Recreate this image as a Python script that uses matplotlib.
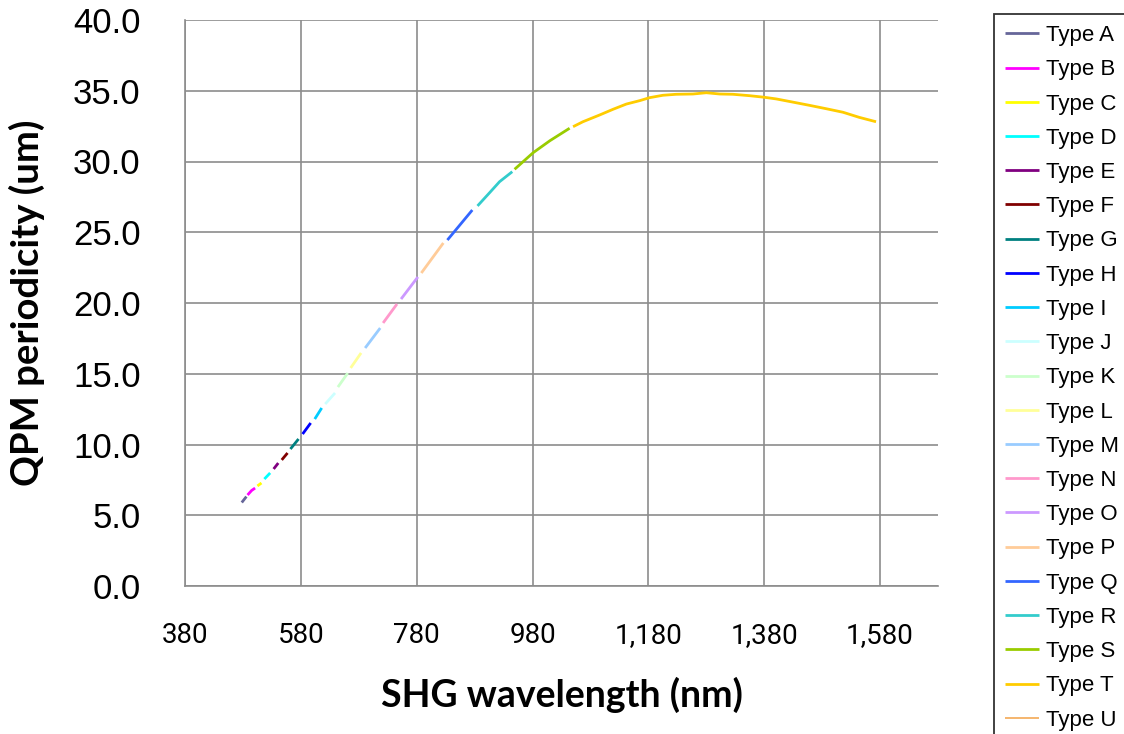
import matplotlib.pyplot as plt
from matplotlib.ticker import FuncFormatter, MultipleLocator

# Series (SHG wavelength nm, QPM period um)
labels = ["Type A", "Type B", "Type C", "Type D", "Type E", "Type F", "Type G",
          "Type H", "Type I", "Type J", "Type K", "Type L", "Type M", "Type N",
          "Type O", "Type P", "Type Q", "Type R", "Type S", "Type T", "Type U"]

wl_a, qpm_a = [478, 486], [5.90, 6.32]
wl_b, qpm_b = [488, 495, 501], [6.43, 6.75, 6.92]
wl_c, qpm_c = [505, 512], [7.07, 7.28]
wl_d, qpm_d = [517, 527], [7.56, 7.99]
wl_e, qpm_e = [533, 541], [8.27, 8.69]
wl_f, qpm_f = [547, 557], [8.91, 9.40]
wl_g, qpm_g = [562, 576], [9.68, 10.39]
wl_h, qpm_h = [583, 597], [10.74, 11.52]
wl_i, qpm_i = [604, 616], [11.80, 12.58]
wl_j, qpm_j = [622, 639], [12.86, 13.64]
wl_k, qpm_k = [644, 661], [14.06, 15.05]
wl_l, qpm_l = [666, 684], [15.41, 16.47]
wl_m, qpm_m = [691, 717], [16.82, 18.23]
wl_n, qpm_n = [722, 746], [18.59, 19.93]
wl_o, qpm_o = [753, 782], [20.28, 21.84]
wl_p, qpm_p = [788, 826], [22.12, 24.24]
wl_q, qpm_q = [833, 876], [24.45, 26.57]
wl_r, qpm_r = [885, 906, 923, 945], [26.86, 27.80, 28.57, 29.28]
wl_s, qpm_s = [949, 981, 1010, 1044], [29.45, 30.62, 31.47, 32.35]
wl_t = [1050, 1067, 1096, 1119, 1142, 1165, 1182, 1205, 1228, 1257, 1280,
        1303, 1326, 1355, 1380, 1401, 1429, 1458, 1487, 1516, 1544, 1573]
qpm_t = [32.46, 32.81, 33.29, 33.69, 34.06, 34.30, 34.51, 34.68, 34.75, 34.77, 34.86,
         34.77, 34.75, 34.65, 34.54, 34.42, 34.20, 33.97, 33.73, 33.48, 33.12, 32.81]
wl_u, qpm_u = [], []

xs = [wl_a, wl_b, wl_c, wl_d, wl_e, wl_f, wl_g, wl_h, wl_i, wl_j, wl_k,
      wl_l, wl_m, wl_n, wl_o, wl_p, wl_q, wl_r, wl_s, wl_t, wl_u]
ys = [qpm_a, qpm_b, qpm_c, qpm_d, qpm_e, qpm_f, qpm_g, qpm_h, qpm_i, qpm_j, qpm_k,
      qpm_l, qpm_m, qpm_n, qpm_o, qpm_p, qpm_q, qpm_r, qpm_s, qpm_t, qpm_u]

colors = ["#666699", "#FF00FF", "#FFFF00", "#00FFFF", "#800080", "#800000",
          "#008080", "#0000FF", "#00CCFF", "#CCFFFF", "#CCFFCC", "#FFFF99",
          "#99CCFF", "#FF99CC", "#CC99FF", "#FFCC99", "#3366FF", "#33CCCC",
          "#99CC00", "#FFCC00", "#F5B062"]

fig = plt.figure(figsize=(11.24, 7.34), dpi=100)
ax = fig.add_axes([185 / 1124, 1 - 586 / 734, (938 - 185) / 1124, (586 - 20) / 734])

for x, y, c, lab in zip(xs, ys, colors, labels):
    lw = 1.3 if lab == "Type U" else 2.0
    ax.plot(x, y, color=c, lw=lw, label=lab, solid_capstyle="butt")

ax.set_xlim(380, 1680)
ax.set_ylim(0, 40)
ax.xaxis.set_major_locator(MultipleLocator(200, offset=380))
ax.yaxis.set_major_locator(MultipleLocator(5))
ax.xaxis.set_major_formatter(FuncFormatter(lambda v, p: f"{v:,.0f}" if v <= 1580 else ""))
ax.yaxis.set_major_formatter(FuncFormatter(lambda v, p: f"{v:.1f}"))

ax.grid(True, color="#8c8c8c", lw=1.2)
ax.set_axisbelow(True)
for s in ["top", "right"]:
    ax.spines[s].set_visible(False)
for s in ["left", "bottom"]:
    ax.spines[s].set_color("#8c8c8c")
    ax.spines[s].set_linewidth(1.2)

ax.tick_params(axis="both", length=0)
ax.tick_params(axis="y", labelsize=25, pad=32)
ax.tick_params(axis="x", labelsize=20, pad=26)
for t in ax.get_yticklabels():
    t.set_family("Liberation Sans")
for t in ax.get_xticklabels():
    t.set_family("Roboto")

ax.set_xlabel("SHG wavelength (nm)", fontsize=27, fontweight="bold",
              family="Lato", labelpad=20)
ax.set_ylabel("QPM periodicity (um)", fontsize=27.5, fontweight="bold",
              family="Lato", labelpad=20)

leg = fig.legend(loc="upper left", bbox_to_anchor=(994 / 1124, 1 - 14 / 734),
                 borderaxespad=0, handlelength=1.53,
                 handletextpad=0.32, labelspacing=0.595, borderpad=0.5,
                 fancybox=False, prop={"family": "Liberation Sans", "size": 16})
leg.get_frame().set_edgecolor("black")
leg.get_frame().set_linewidth(1.3)

fig.savefig("out.png", dpi=100)
